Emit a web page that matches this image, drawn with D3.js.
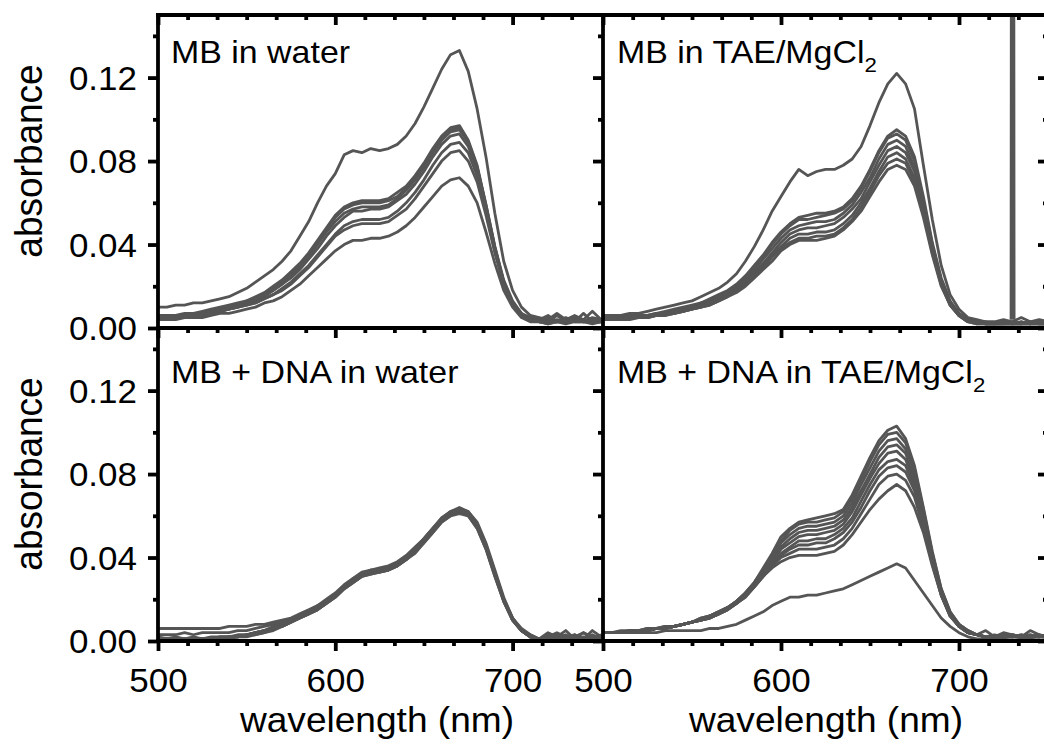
<!DOCTYPE html>
<html><head><meta charset="utf-8">
<script src="https://cdn.jsdelivr.net/npm/d3@7"></script>
<style>
body{margin:0;background:#fff}
svg{display:block}
text{font-family:"Liberation Sans",Arial,Helvetica,sans-serif;fill:#000}
</style>
</head><body>
<svg id="chart" width="1044" height="744"></svg>
<script>
// ---------- DATA (absorbance values in units of 0.001) ----------
const wavelengths = [500,505,510,515,520,525,530,535,540,545,550,555,560,565,570,575,580,585,590,595,600,605,610,615,620,625,630,635,640,645,650,655,660,665,670,675,680,685,690,695,700,705,710,715,720,725,730,735,740,745,750];

const mbWater = [
 [10,10,11,11,12,12,13,14,15,17,19,22,25,28,32,37,44,51,60,68,74,83,85,84,86,85,86,88,92,98,106,115,124,131,133,123,105,82,55,32,18,10,6,5,4,7,4,6,4,8,4],
 [6,6,6,7,7,8,9,10,11,12,13,15,17,20,23,27,31,36,42,48,54,58,60,61,61,61,62,65,68,73,79,86,92,96,97,90,78,59,39,23,13,7,5,4,3,6,3,5,3,4,3],
 [5,5,6,6,7,7,8,9,10,11,13,14,16,19,22,26,30,35,41,47,53,57,59,60,60,60,61,63,67,72,78,85,91,95,96,89,77,58,38,22,12,7,4,4,6,3,4,3,7,3,3],
 [6,5,6,6,6,7,8,9,10,11,12,14,16,18,21,25,29,34,40,46,51,55,57,58,58,58,59,62,66,71,77,84,90,94,95,89,77,59,39,22,12,6,4,3,3,4,3,4,3,5,4],
 [5,5,5,6,6,7,7,8,9,10,12,13,15,18,21,24,28,33,38,44,49,53,56,56,57,57,58,61,64,69,75,82,88,92,93,87,76,58,38,22,12,6,4,3,3,3,5,3,3,4,3],
 [4,5,5,5,6,6,7,8,9,10,11,12,14,16,19,22,26,30,35,40,45,49,51,52,52,52,53,56,60,65,71,78,84,88,89,84,73,56,37,21,11,6,4,3,2,3,3,4,3,3,3],
 [5,5,5,6,6,6,7,8,9,10,11,12,14,16,18,21,25,29,34,39,44,47,49,50,50,50,51,54,57,62,68,74,80,84,85,80,70,54,36,21,11,6,4,3,3,3,3,4,3,3,3],
 [4,4,4,5,5,5,6,7,7,8,9,10,12,13,15,18,21,25,29,33,37,40,42,42,43,43,44,46,49,53,58,63,68,71,72,68,60,46,31,18,10,5,3,3,2,3,2,3,3,2,3]
];

const mbTae = [
 [6,6,6,7,7,8,9,10,11,12,13,15,17,19,22,26,32,39,47,56,63,70,76,73,75,76,76,78,81,87,97,108,117,122,117,105,78,52,30,16,9,5,4,3,3,4,3,5,3,4,3],
 [5,5,5,6,6,6,7,8,9,10,11,12,14,16,18,21,25,30,35,41,46,50,53,54,55,55,56,58,62,68,76,85,92,95,92,82,63,41,24,13,7,4,3,3,2,3,2,3,2,3,2],
 [5,5,5,5,6,6,7,7,8,9,10,12,13,15,17,20,24,29,34,40,45,49,52,52,53,54,55,57,61,67,75,84,91,93,90,80,61,40,23,12,7,4,3,2,2,3,2,2,3,2,2],
 [4,5,5,5,5,6,6,7,8,9,10,11,13,15,17,20,23,28,33,38,43,47,49,50,51,51,52,55,59,65,72,81,88,90,87,77,59,39,22,12,6,4,3,2,2,2,3,2,2,3,2],
 [4,4,5,5,5,6,6,7,8,9,10,11,12,14,16,19,22,27,31,36,41,45,47,48,48,49,50,53,57,62,70,78,85,87,84,75,58,38,22,12,6,4,3,2,2,2,2,3,2,2,2],
 [4,4,4,5,5,5,6,7,7,8,9,10,12,14,16,18,22,26,30,35,39,43,45,45,46,46,47,50,54,60,67,75,82,84,81,72,56,37,21,11,6,3,3,2,2,2,2,2,3,2,2],
 [4,4,4,5,5,5,6,6,7,8,9,10,11,13,15,18,21,25,29,34,38,41,43,43,44,44,45,48,52,58,65,73,79,81,79,70,55,36,21,11,6,3,2,2,2,2,2,2,2,2,2],
 [4,4,4,4,5,5,6,6,7,8,9,10,11,13,15,17,20,24,28,32,37,40,42,42,42,43,44,47,51,56,63,70,76,78,76,68,53,35,20,11,6,3,2,2,2,2,2,2,2,2,2]
];
// narrow spike in one TAE/MgCl2 spectrum near 730 nm (runs off the top)
const spikeWavelengths = [729.3, 730.1, 730.9];
const spikeValues = [4, 900, 4];

const dnaWater = [
 [6,6,6,6,6,6,6,6,7,7,7,8,8,9,10,11,13,15,17,19,22,26,29,32,33,34,35,37,40,44,48,53,58,61,62,60,54,44,31,19,10,5,2,1,3,2,5,1,4,2,1],
 [3,3,3,4,3,4,4,4,4,5,5,6,7,8,9,10,12,14,16,19,22,26,30,32,34,34,35,37,40,44,49,54,58,62,63,61,55,45,32,19,10,5,2,1,2,4,2,3,1,5,2],
 [1,1,1,1,1,1,1,2,2,2,3,4,5,6,8,10,12,14,16,19,22,26,29,32,33,34,35,37,40,44,48,53,58,61,63,61,55,45,32,20,10,5,2,1,1,3,1,2,4,1,3],
 [2,1,2,1,2,1,2,2,2,3,3,4,5,7,8,10,12,14,17,20,23,27,30,33,34,35,36,38,41,45,49,54,59,62,64,62,56,46,33,20,11,5,3,1,4,2,1,3,1,2,2],
 [1,1,1,1,1,1,1,1,2,2,3,4,5,6,7,9,11,13,15,18,21,25,28,31,33,33,34,36,39,43,47,52,57,60,62,60,54,44,31,19,10,5,2,1,1,1,3,1,2,1,1],
 [0,0,1,0,1,1,1,1,1,2,2,3,4,5,7,9,11,13,15,18,21,25,28,31,32,33,34,36,39,43,48,53,58,61,62,61,56,46,33,20,11,5,2,1,0,1,1,2,1,3,1],
 [1,1,1,1,1,1,1,2,2,2,3,4,5,6,8,10,12,14,16,19,22,26,29,32,34,34,35,37,40,44,49,54,59,62,63,62,57,47,34,21,11,6,3,1,2,1,1,1,1,2,1],
 [1,1,1,1,1,1,1,1,2,2,3,3,4,6,7,9,11,13,15,18,21,25,28,31,32,33,34,36,39,42,47,52,57,60,61,60,55,45,32,20,10,5,2,1,1,1,2,1,1,1,1]
];

const dnaTae = [
 [4,4,4,5,5,5,6,6,7,8,9,11,12,14,16,19,23,28,35,42,50,54,57,58,59,60,61,63,70,79,88,96,101,103,97,84,64,43,25,14,8,5,3,5,2,4,3,2,5,3,2],
 [4,4,5,5,5,6,6,7,7,8,9,11,12,14,16,19,23,28,34,41,48,53,56,57,57,58,59,62,68,77,86,94,99,100,95,82,63,42,25,14,8,5,3,2,3,2,3,2,3,2,3],
 [4,4,4,5,5,6,6,6,7,8,9,10,12,14,16,19,23,28,34,40,47,51,54,55,55,56,57,60,66,75,83,91,96,97,92,80,61,41,24,13,8,5,3,2,2,3,2,3,2,2,3],
 [4,4,4,5,5,5,6,7,7,8,9,10,12,13,16,19,22,27,33,39,45,49,52,53,53,54,55,58,64,72,80,88,93,94,90,78,60,40,24,13,7,4,3,2,2,2,3,2,2,3,2],
 [4,4,4,4,5,5,6,6,7,8,9,10,11,13,15,18,22,27,32,38,44,47,50,51,51,52,53,56,62,70,78,85,90,91,87,76,59,40,23,13,7,4,3,2,2,2,2,3,2,2,2],
 [4,4,4,4,5,5,6,6,7,8,9,10,11,13,15,18,22,26,32,37,42,45,48,48,49,49,51,54,59,67,75,82,86,87,84,74,57,39,23,12,7,4,3,2,2,2,2,2,3,2,2],
 [4,4,4,4,5,5,6,6,7,8,9,10,11,13,15,18,21,26,31,36,41,44,46,46,47,47,49,52,57,64,72,79,83,84,81,72,56,38,22,12,7,4,3,2,2,2,2,2,2,3,2],
 [4,4,4,4,5,5,6,6,7,8,9,10,11,13,15,18,21,26,31,36,40,42,44,44,44,45,46,49,54,61,68,75,79,80,77,69,54,37,22,12,7,4,3,2,2,2,2,2,2,2,3],
 [4,4,4,4,5,5,6,6,7,8,9,10,12,14,16,18,22,26,31,35,38,40,41,41,41,42,43,46,51,57,63,68,72,75,72,64,52,36,22,12,7,4,3,2,2,2,3,2,2,2,2],
 [4,4,4,4,4,4,4,5,5,5,5,5,6,6,7,8,10,12,14,17,19,21,21,22,22,23,24,25,27,29,31,33,35,37,35,29,23,17,11,7,4,2,1,1,1,1,0,1,1,0,1]
];

const panelLabels = ["MB in water", "MB in TAE/MgCl", "MB + DNA in water", "MB + DNA in TAE/MgCl"];
const labelSubscripts = ["", "2", "", "2"];
const yMajorTicks = [0, 0.04, 0.08, 0.12];
const yMinorTicks = [0.02, 0.06, 0.10, 0.14];
const xMajorTicks = [500, 600, 700];
const xMinorTicks = [516.67, 533.33, 550, 566.67, 583.33, 616.67, 633.33, 650, 666.67, 683.33, 716.67, 733.33];
const yTitle = "absorbance";
const xTitle = "wavelength (nm)";

// ---------- LAYOUT ----------
const svg = d3.select("#chart");
svg.append("rect").attr("width",1044).attr("height",744).attr("fill","#fff");
const colEdges = [158, 603, 1048];
const rowEdges = [15, 328, 641];
const SX = 1.06; // slight horizontal text stretch seen in the reference
const lineColor = "#555555";
const axisWidth = 3.8;

const xScales = [
  d3.scaleLinear().domain([500, 751]).range([colEdges[0], colEdges[1]]),
  d3.scaleLinear().domain([500, 750]).range([colEdges[1], colEdges[2]])
];
const yScales = [
  d3.scaleLinear().domain([0, 0.15]).range([rowEdges[1], rowEdges[0]]),
  d3.scaleLinear().domain([0, 0.15]).range([rowEdges[2], rowEdges[1]])
];

const panels = [
  {data: mbWater, col: 0, row: 0},
  {data: mbTae, col: 1, row: 0},
  {data: dnaWater, col: 0, row: 1},
  {data: dnaTae, col: 1, row: 1}
];

const defs = svg.append("defs");
panels.forEach((p, i) => {
  defs.append("clipPath").attr("id", "clip" + i).append("rect")
    .attr("x", colEdges[p.col]).attr("y", rowEdges[p.row])
    .attr("width", colEdges[p.col + 1] - colEdges[p.col])
    .attr("height", rowEdges[p.row + 1] - rowEdges[p.row]);
});

// ---------- DATA LINES ----------
panels.forEach((p, i) => {
  const x = xScales[p.col], y = yScales[p.row];
  const line = d3.line().x(d => x(d[0])).y(d => y(d[1] / 1000));
  const g = svg.append("g").attr("clip-path", `url(#clip${i})`);
  p.data.forEach(series => {
    g.append("path").attr("d", line(series.map((v, k) => [wavelengths[k], v])))
      .attr("fill", "none").attr("stroke", lineColor).attr("stroke-width", 2.8)
      .attr("stroke-linejoin", "round");
  });
  if (i === 1) {
    g.append("path").attr("d", line(spikeValues.map((v, k) => [spikeWavelengths[k], v])))
      .attr("fill", "none").attr("stroke", lineColor).attr("stroke-width", 3);
  }
});

// ---------- AXES (ticks) ----------
const tickFont = 33;
function styleAxis(g) {
  g.select(".domain").remove();
  g.selectAll(".tick line").attr("stroke", "#000").attr("stroke-width", axisWidth);
  g.attr("font-family", null).attr("font-size", null);
}
// vertical axes (ticks outward / left) at each column edge
[0, 1, 2].forEach(c => {
  [0, 1].forEach(r => {
    const y = yScales[r];
    const gMaj = svg.append("g").attr("transform", `translate(${colEdges[c]},0)`)
      .call(d3.axisLeft(y).tickValues(yMajorTicks).tickSize(10).tickSizeOuter(0)
        .tickPadding(12).tickFormat(c === 0 ? d3.format(".2f") : () => ""));
    styleAxis(gMaj);
    gMaj.selectAll(".tick text").attr("font-size", tickFont)
      .attr("x", -21 / SX).attr("dy", "0.36em")
      .attr("transform", `scale(${SX},1)`);
    const gMin = svg.append("g").attr("transform", `translate(${colEdges[c]},0)`)
      .call(d3.axisLeft(y).tickValues(yMinorTicks).tickSize(5).tickSizeOuter(0).tickFormat(() => ""));
    styleAxis(gMin);
  });
});
// horizontal axes (ticks pointing down) at every row edge
[0, 1].forEach(c => {
  const x = xScales[c];
  [0, 1, 2].forEach(r => {
    const gMaj = svg.append("g").attr("transform", `translate(0,${rowEdges[r]})`)
      .call(d3.axisBottom(x).tickValues(xMajorTicks).tickSize(10).tickSizeOuter(0)
        .tickPadding(17).tickFormat(r === 2 ? d3.format("d") : () => ""));
    styleAxis(gMaj);
    gMaj.selectAll(".tick text").attr("font-size", tickFont)
      .attr("y", 27).attr("dy", "0.716em").attr("transform", `scale(${SX},1)`);
    const gMin = svg.append("g").attr("transform", `translate(0,${rowEdges[r]})`)
      .call(d3.axisBottom(x).tickValues(xMinorTicks).tickSize(5).tickSizeOuter(0).tickFormat(() => ""));
    styleAxis(gMin);
  });
});

// ---------- FRAME LINES ----------
const frame = svg.append("g").attr("stroke", "#000").attr("stroke-width", axisWidth);
rowEdges.forEach(yv => frame.append("line").attr("x1", colEdges[0] - axisWidth / 2).attr("x2", 1050).attr("y1", yv).attr("y2", yv));
colEdges.forEach(xv => frame.append("line").attr("x1", xv).attr("x2", xv).attr("y1", rowEdges[0] - axisWidth / 2).attr("y2", rowEdges[2] + axisWidth / 2));

// ---------- TEXT ----------
function stretchedText(x, y, str, size, anchor, rotate) {
  return svg.append("text")
    .attr("transform", `translate(${x},${y}) scale(${SX},1)` + (rotate ? ` rotate(${rotate})` : ""))
    .attr("font-size", size).attr("text-anchor", anchor).text(str);
}
// panel labels
const labelPos = [[171, 63], [617, 63], [171, 383], [617, 383]];
panelLabels.forEach((s, i) => {
  const t = stretchedText(labelPos[i][0], labelPos[i][1], s, 32, "start");
  if (labelSubscripts[i]) {
    t.append("tspan").attr("font-size", 21).attr("dy", 9).text(labelSubscripts[i]);
  }
});
// axis titles
stretchedText(42, 161, yTitle, 37, "middle", -90);
stretchedText(42, 474, yTitle, 37, "middle", -90);
stretchedText(377, 732, xTitle, 35, "middle");
stretchedText(826, 732, xTitle, 35, "middle");
</script>
</body></html>
